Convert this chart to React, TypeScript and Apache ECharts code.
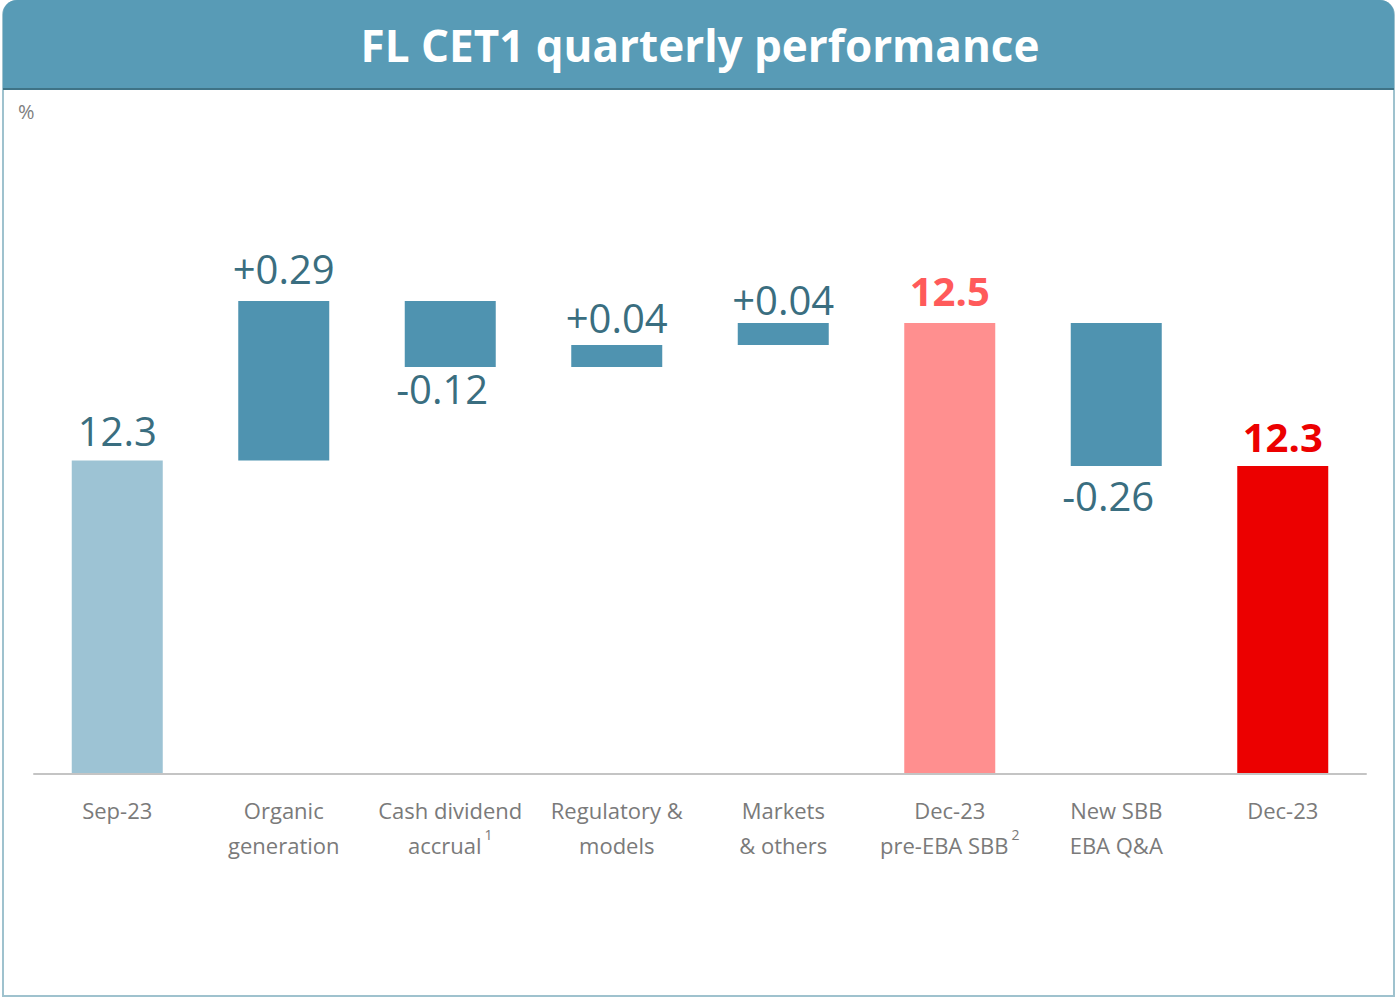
import React, { useEffect, useRef } from "react";
import * as echarts from "echarts";

const categories = [
  "Sep-23",
  "Organic\ngeneration",
  "Cash dividend\naccrual{sup|1}",
  "Regulatory &\nmodels",
  "Markets\n& others",
  "Dec-23\npre-EBA SBB{sup|2}",
  "New SBB\nEBA Q&A",
  "Dec-23",
];
const startValue = 12.3;
// null = total bar (running level), number = change
const deltas: (number | null)[] = [null, 0.29, -0.12, 0.04, 0.04, null, -0.26, null];
const valueLabels = ["12.3", "+0.29", "-0.12", "+0.04", "+0.04", "12.5", "-0.26", "12.3"];

// styles
const barColors = ["#9dc3d4", "#4f93b0", "#4f93b0", "#4f93b0", "#4f93b0", "#ff8f8f", "#4f93b0", "#ec0000"];
const labelColors = ["#3a6e80", "#3a6e80", "#3a6e80", "#3a6e80", "#3a6e80", "#ff5a5a", "#3a6e80", "#ec0000"];
const labelBold = [false, false, false, false, false, true, false, true];
const labelGap = [10, 13, 1, 8, 4, 13, 9, 10];

export default function App() {
  const ref = useRef<HTMLDivElement>(null);
  useEffect(() => {
    if (!ref.current) return;
    const chart = echarts.init(ref.current, undefined, { renderer: "svg" });

    let level = startValue;
    const baseData: number[] = [];
    const barData: any[] = [];
    deltas.forEach((d, i) => {
      let base: number, size: number, pos: string;
      if (d === null) {
        base = 0;
        size = level;
        pos = "top";
      } else if (d >= 0) {
        base = level;
        size = d;
        level = level + d;
        pos = "top";
      } else {
        base = level + d;
        size = -d;
        level = level + d;
        pos = "bottom";
      }
      baseData.push(base);
      barData.push({
        value: size,
        itemStyle: { color: barColors[i] },
        label: {
          show: true,
          position: pos,
          distance: labelGap[i],
          offset: pos === "bottom" ? [-8, 0] : [0, 0],
          formatter: valueLabels[i],
          color: labelColors[i],
          fontWeight: labelBold[i] ? "bold" : "normal",
          fontSize: 40,
          fontFamily: "Open Sans",
        },
      });
    });

    chart.setOption({
      animation: false,
      backgroundColor: "#ffffff",
      grid: { left: 34, width: 1332, top: 224, height: 550 },
      xAxis: {
        type: "category",
        data: categories,
        axisLine: { show: true, lineStyle: { color: "#c4c4c4", width: 2 } },
        axisTick: { show: false },
        axisLabel: {
          color: "#7a7a7a",
          fontSize: 22,
          fontFamily: "Open Sans",
          lineHeight: 35,
          margin: 18,
          interval: 0,
          rich: {
            sup: { fontSize: 14, verticalAlign: "top", color: "#7a7a7a", padding: [0, 0, 12, 3], fontFamily: "Open Sans" },
          },
        },
        z: 5,
      },
      yAxis: {
        type: "value",
        min: 11.73,
        max: 12.73,
        show: false,
        splitLine: { show: false },
      },
      series: [
        {
          type: "bar",
          stack: "w",
          data: baseData,
          barWidth: 91,
          itemStyle: { color: "transparent" },
          emphasis: { disabled: true },
          silent: true,
        },
        {
          type: "bar",
          stack: "w",
          data: barData,
          barWidth: 91,
        },
      ],
      graphic: [
        {
          type: "rect",
          shape: { x: 3, y: 1, width: 1391, height: 995, r: [14, 14, 0, 0] },
          style: { fill: "none", stroke: "#9fc2ce", lineWidth: 2 },
          z: 1,
        },
        {
          type: "rect",
          shape: { x: 3, y: 0, width: 1391, height: 89, r: [14, 14, 0, 0] },
          style: { fill: "#589bb6" },
          z: 2,
        },
        {
          type: "line",
          shape: { x1: 3, y1: 89, x2: 1394, y2: 89 },
          style: { stroke: "#3f7386", lineWidth: 2 },
          z: 3,
        },
        {
          type: "text",
          x: 700,
          y: 45,
          style: {
            text: "FL CET1 quarterly performance",
            fill: "#ffffff",
            font: "bold 44px 'Open Sans'",
            align: "center",
            verticalAlign: "middle",
          },
          z: 4,
        },
        {
          type: "text",
          x: 18,
          y: 111,
          style: {
            text: "%",
            fill: "#808080",
            font: "20px 'Open Sans'",
            align: "left",
            verticalAlign: "middle",
          },
          z: 4,
        },
      ],
    });
    return () => chart.dispose();
  }, []);
  return (
    <div
      ref={ref}
      style={{ position: "fixed", left: 0, top: 0, width: 1396, height: 998 }}
    />
  );
}
